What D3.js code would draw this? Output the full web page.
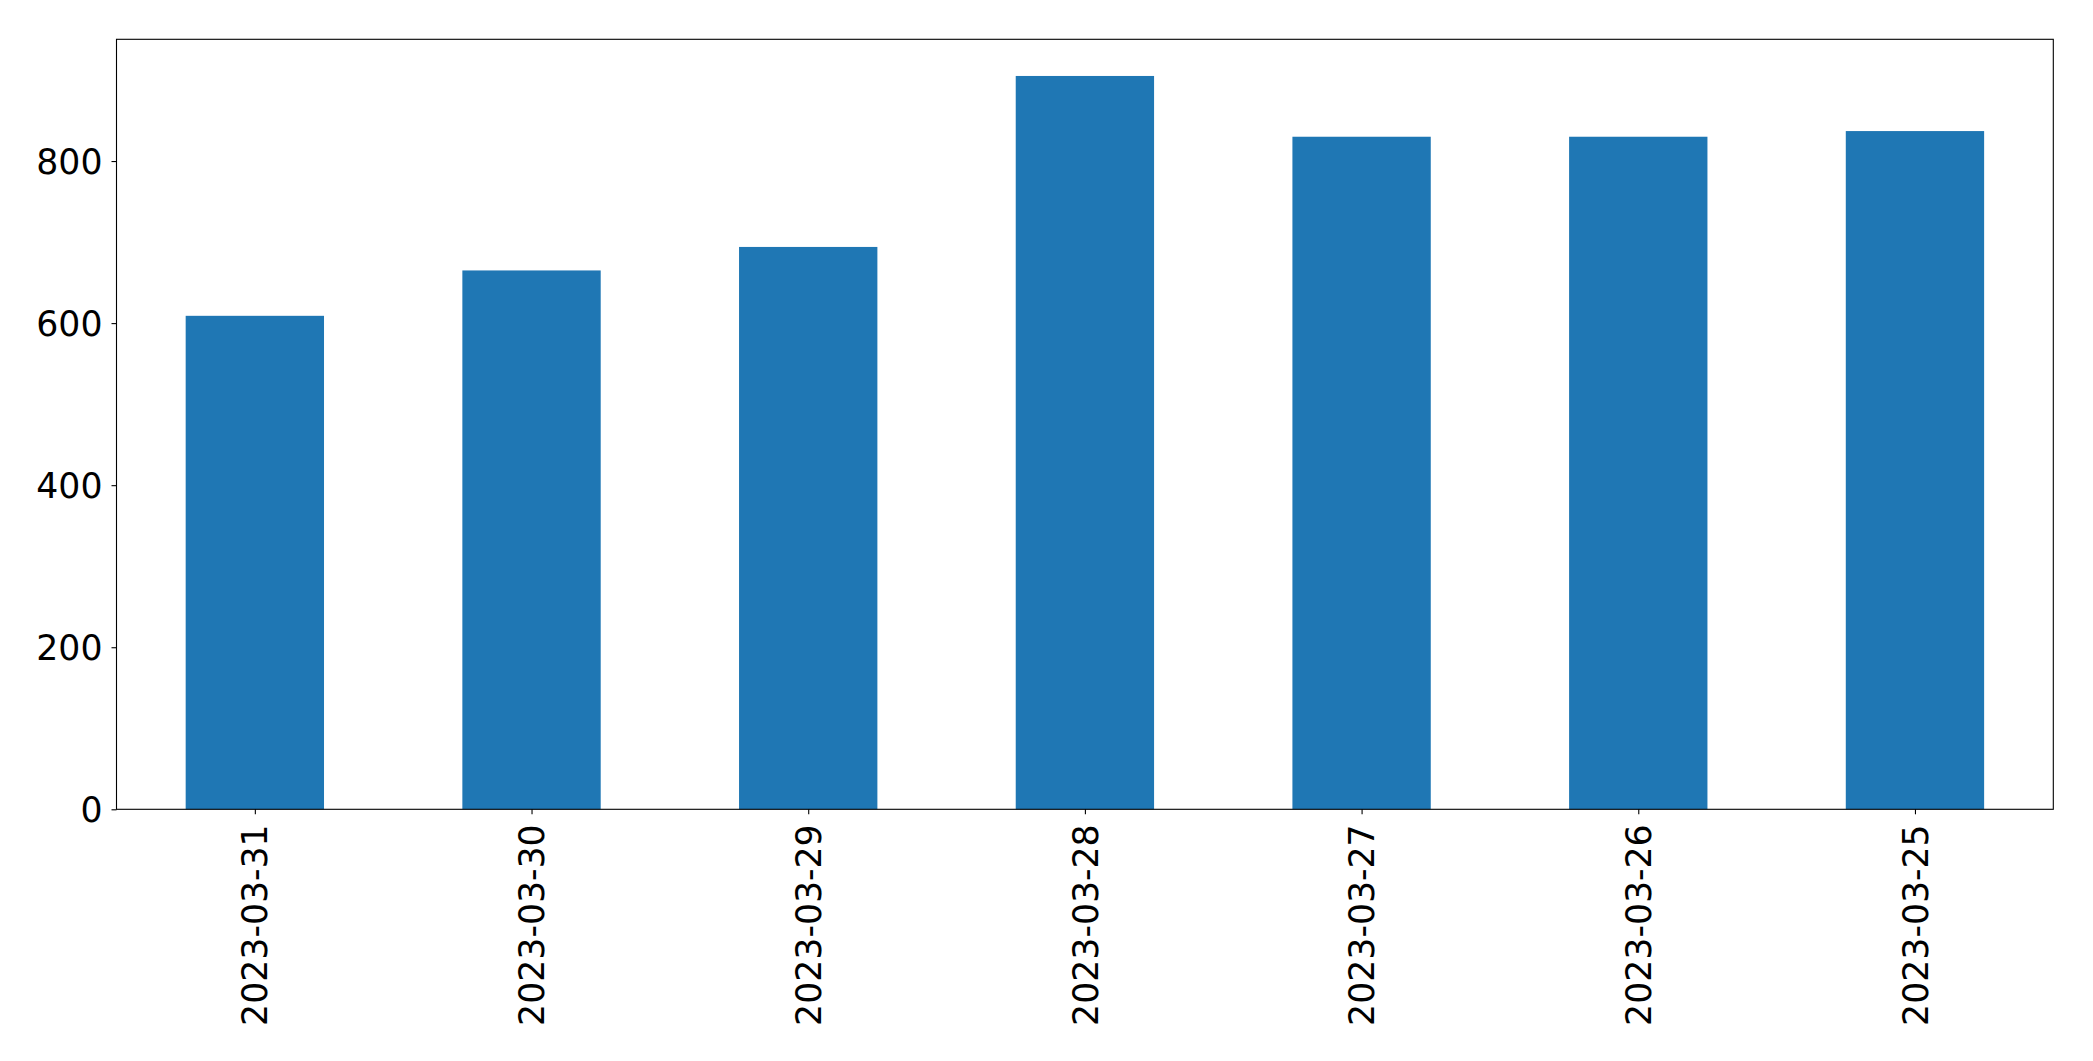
<!DOCTYPE html>
<html>
<head>
<meta charset="utf-8">
<script src="https://cdn.jsdelivr.net/npm/d3@7"></script>
<style>
  html, body { margin: 0; padding: 0; background: #ffffff; }
  svg { display: block; }
  text { font-family: "DejaVu Sans", sans-serif; fill: #000; }
</style>
</head>
<body>
<script>
const categories = ["2023-03-31", "2023-03-30", "2023-03-29", "2023-03-28", "2023-03-27", "2023-03-26", "2023-03-25"];
const values = [609, 665, 694, 905, 830, 830, 837];
const yTicks = [0, 200, 400, 600, 800];

const W = 2093, H = 1061;
const margin = { left: 116.5, top: 39.3, right: W - 2053.3, bottom: H - 809.3 };
const iw = W - margin.left - margin.right;
const ih = H - margin.top - margin.bottom;
const fontSize = 34.7;

const svg = d3.select("body").append("svg").attr("width", W).attr("height", H);
const g = svg.append("g").attr("transform", `translate(${margin.left},${margin.top})`);

// matplotlib-like categorical scale: range -0.5..n-0.5, bar width 0.5
const x = d3.scaleLinear().domain([-0.5, categories.length - 0.5]).range([0, iw]);
const y = d3.scaleLinear().domain([0, d3.max(values) * 1.05]).range([ih, 0]);

g.selectAll("rect.bar").data(values).enter().append("rect")
  .attr("class", "bar")
  .attr("x", (d, i) => x(i - 0.25))
  .attr("width", (d, i) => x(i + 0.25) - x(i - 0.25))
  .attr("y", d => y(d))
  .attr("height", d => y(0) - y(d))
  .attr("fill", "#1f77b4");

// Y axis
const yAxis = d3.axisLeft(y).tickValues(yTicks).tickSize(5).tickPadding(9).tickFormat(d3.format("d"));
const ya = g.append("g").call(yAxis);
ya.select(".domain").remove();
ya.selectAll("text").style("font-size", fontSize + "px").attr("dy", "0.35em");
ya.selectAll("line").attr("stroke", "#000").attr("stroke-width", 1.1);

// X axis
const xAxis = d3.axisBottom(x).tickValues(d3.range(categories.length)).tickFormat(i => categories[i]).tickSize(5).tickPadding(0);
const xa = g.append("g").attr("transform", `translate(0,${ih})`).call(xAxis);
xa.select(".domain").remove();
xa.selectAll("line").attr("stroke", "#000").attr("stroke-width", 1.1);
xa.selectAll("text")
  .style("font-size", fontSize + "px")
  .attr("text-anchor", "end")
  .attr("transform", "rotate(-90)")
  .attr("x", -15)
  .attr("y", 0)
  .attr("dy", "0.35em");

// Frame
g.append("rect").attr("x", 0).attr("y", 0).attr("width", iw).attr("height", ih)
  .attr("fill", "none").attr("stroke", "#000").attr("stroke-width", 1.1);
</script>
</body>
</html>
